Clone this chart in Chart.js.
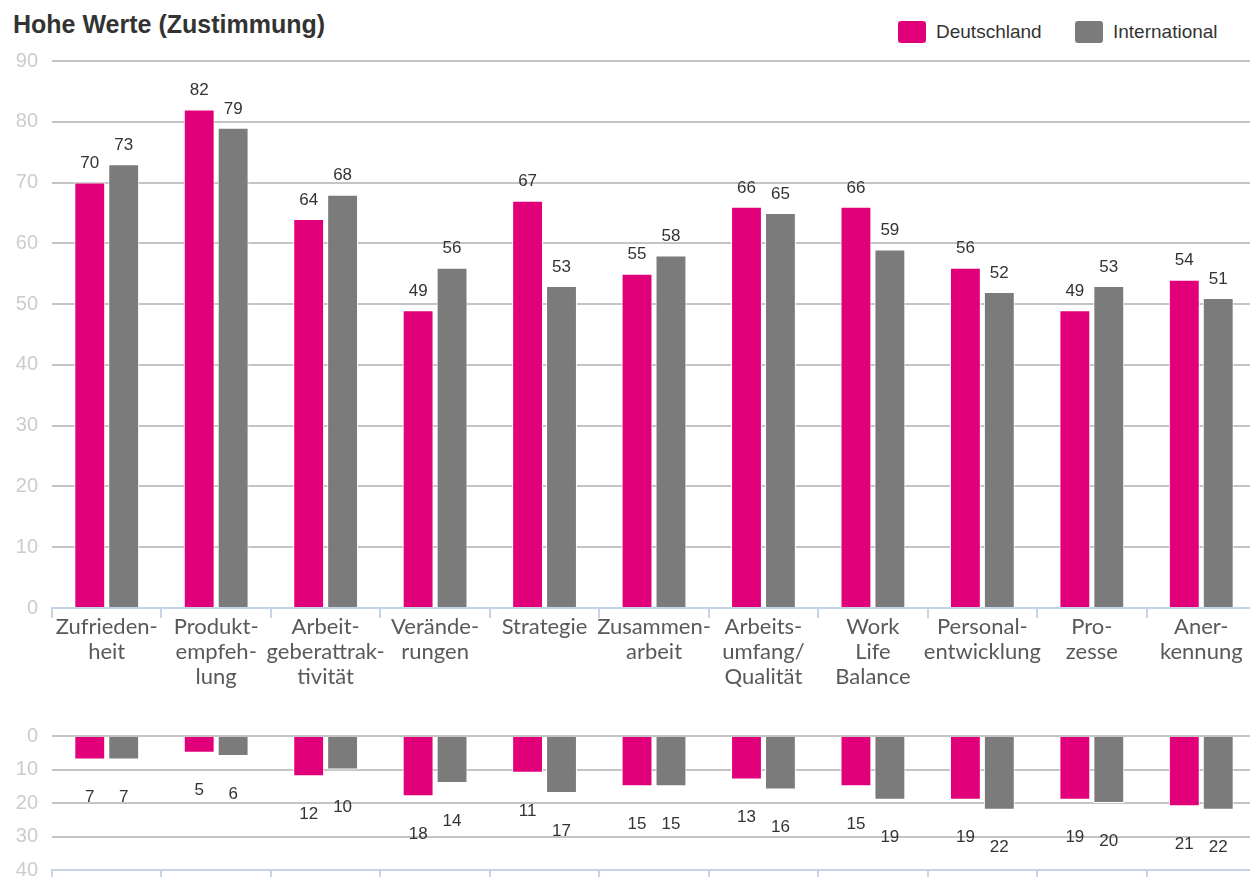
<!DOCTYPE html>
<html>
<head>
<meta charset="utf-8">
<script src="https://cdn.jsdelivr.net/npm/chart.js@4.4.1/dist/chart.umd.min.js"></script>
<style>
    body { margin: 0; width: 1250px; height: 877px; overflow: hidden; background: #fff; position: relative; font-family: 'Liberation Sans', Arial, sans-serif }
    #title { position: absolute; left: 13px; top: 10px; font-size: 25px; font-weight: bold; color: #333 }
    .lg { position: absolute; top: 21px; height: 22px; display: flex; align-items: center; font-size: 19px; color: #333 }
    .sw { width: 28px; height: 22px; border-radius: 3px; margin-right: 10px }
    #topChart { position: absolute; left: 0; top: 0 }
    #bottomChart { position: absolute; left: 0; top: 700px }
</style>
</head>
<body>
<div id="title">Hohe Werte (Zustimmung)</div>
<div class="lg" style="left:898px"><span class="sw" style="background:#e2007a"></span>Deutschland</div>
<div class="lg" style="left:1075px"><span class="sw" style="background:#7b7b7b"></span>International</div>
<canvas id="topChart" width="1256" height="700"></canvas>
<canvas id="bottomChart" width="1256" height="196"></canvas>
<script>
const categories = [
    ['Zufrieden-', 'heit'],
    ['Produkt-', 'empfeh-', 'lung'],
    ['Arbeit-', 'geberattrak-', 'tivität'],
    ['Verände-', 'rungen'],
    ['Strategie'],
    ['Zusammen-', 'arbeit'],
    ['Arbeits-', 'umfang/', 'Qualität'],
    ['Work', 'Life', 'Balance'],
    ['Personal-', 'entwicklung'],
    ['Pro-', 'zesse'],
    ['Aner-', 'kennung']
]

// Hohe Werte (Zustimmung)
const highDE = [70, 82, 64, 49, 67, 55, 66, 66, 56, 49, 54]
const highINT = [73, 79, 68, 56, 53, 58, 65, 59, 52, 53, 51]

// niedrige Werte (unterer Teil)
const lowDE = [7, 5, 12, 18, 11, 15, 13, 15, 19, 19, 21]
const lowINT = [7, 6, 10, 14, 17, 15, 16, 19, 22, 20, 22]

const PINK = '#e2007a'
const GREY = '#7b7b7b'
const AXIS_BLUE = '#c5d3e6'

// Werte an die Balken schreiben
const barValues = {
    id: 'barValues',
    afterDatasetsDraw(chart, args, opts) {
        const c = chart.ctx
        c.save()
        c.font = '17px "Liberation Sans", Arial, sans-serif'
        c.fillStyle = '#333'
        c.textAlign = 'center'
        c.textBaseline = 'middle'
        chart.data.datasets.forEach((ds, i) => {
            chart.getDatasetMeta(i).data.forEach((bar, j) => {
                c.fillText(ds.data[j], bar.x, bar.y + opts.offset)
            })
        })
        c.restore()
    }
}

function makeDatasets(de, int) {
    return [
        { label: 'Deutschland', data: de, backgroundColor: PINK, borderColor: '#fff', borderWidth: 1,
          categoryPercentage: 0.62, barPercentage: 0.91 },
        { label: 'International', data: int, backgroundColor: GREY, borderColor: '#fff', borderWidth: 1,
          categoryPercentage: 0.62, barPercentage: 0.91 }
    ]
}

const yTicks = {
    stepSize: 10,
    color: '#cccccc',
    padding: 14,
    font: { size: 20, family: '"Liberation Sans", Arial, sans-serif' }
}

new Chart(document.getElementById('topChart'), {
    type: 'bar',
    data: { labels: categories, datasets: makeDatasets(highDE, highINT) },
    plugins: [barValues],
    options: {
        responsive: false,
        animation: false,
        layout: { padding: { top: 61, left: 0, right: 0, bottom: 0 } },
        plugins: {
            legend: { display: false },
            tooltip: { enabled: false },
            barValues: { offset: -19 }
        },
        scales: {
            x: {
                grid: { drawOnChartArea: false, color: AXIS_BLUE, lineWidth: 2, tickLength: 10 },
                border: { color: AXIS_BLUE, width: 2 },
                ticks: {
                    autoSkip: false, maxRotation: 0, color: '#595959', padding: -4,
                    font: { size: 22, family: 'Lato, "Open Sans", sans-serif', lineHeight: 1.14 }
                },
                afterFit: s => { s.height = 92 }
            },
            y: {
                min: 0, max: 90,
                grid: { color: '#c4c4c4', lineWidth: 2, drawTicks: false },
                border: { display: false },
                ticks: yTicks,
                afterFit: s => { s.width = 52 }
            }
        }
    }
})

new Chart(document.getElementById('bottomChart'), {
    type: 'bar',
    data: { labels: categories, datasets: makeDatasets(lowDE, lowINT) },
    plugins: [barValues],
    options: {
        responsive: false,
        animation: false,
        layout: { padding: { top: 36, left: 0, right: 0, bottom: 0 } },
        plugins: {
            legend: { display: false },
            tooltip: { enabled: false },
            barValues: { offset: 38 }
        },
        scales: {
            x: {
                grid: { drawOnChartArea: false, color: AXIS_BLUE, lineWidth: 2, tickLength: 10 },
                border: { color: AXIS_BLUE, width: 2 },
                ticks: { display: false },
                afterFit: s => { s.height = 9 }
            },
            y: {
                min: 0, max: 40, reverse: true,
                grid: { color: '#c4c4c4', lineWidth: 2, drawTicks: false },
                border: { display: false },
                ticks: yTicks,
                afterFit: s => { s.width = 52 }
            }
        }
    }
})
</script>
</body>
</html>
